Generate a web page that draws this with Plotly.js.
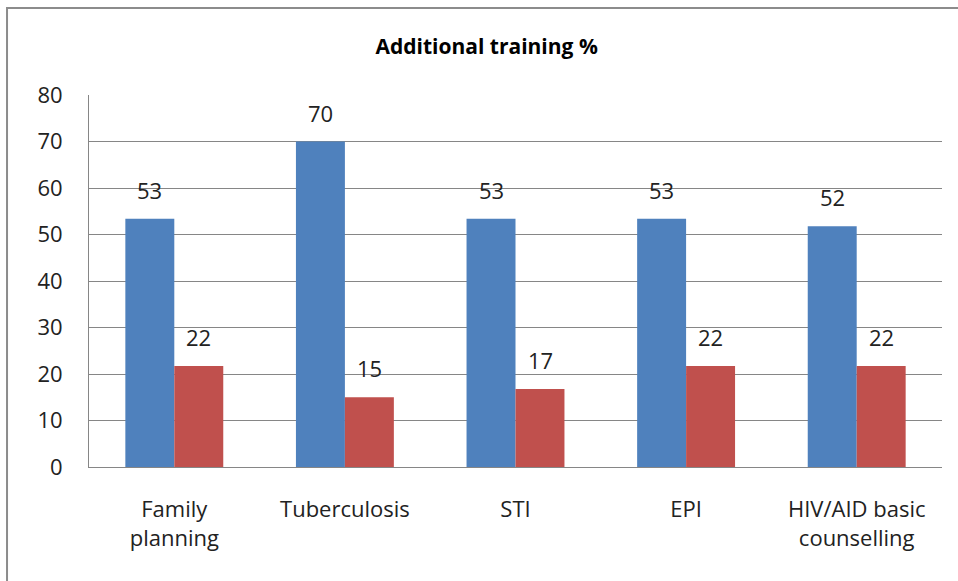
<!DOCTYPE html>
<html>
<head>
<meta charset="utf-8">
<script src="https://cdn.plot.ly/plotly-3.0.1.min.js"></script>
<style>html,body{margin:0;padding:0;background:#fff;}#chart{width:958px;height:581px;}</style>
</head>
<body>
<div id="chart"></div>
<script>
const categories = ["Family<br>planning", "Tuberculosis", "STI", "EPI", "HIV/AID basic<br>counselling"];
const seriesA = [53.4, 70, 53.4, 53.4, 51.8];
const seriesB = [21.7, 15, 16.8, 21.7, 21.7];
const yTicks = [0, 10, 20, 30, 40, 50, 60, 70, 80];

const font = "Open Sans, Noto Sans, sans-serif";
const traces = [
  {type: "bar", x: categories, y: seriesA, name: "A", marker: {color: "#4F81BD"}, hoverinfo: "skip"},
  {type: "bar", x: categories, y: seriesB, name: "B", marker: {color: "#C0504D"}, hoverinfo: "skip"}
];

const annotations = [];
[[seriesA, -24.5], [seriesB, 24.5]].forEach(([vals, dx]) => {
  vals.forEach((v, i) => {
    annotations.push({
      x: categories[i], y: v, xref: "x", yref: "y",
      text: String(Math.round(v)), showarrow: false,
      xshift: dx, yshift: 12, yanchor: "bottom",
      font: {family: font, size: 22, color: "#222"}
    });
  });
});

const border = {type: "path", xref: "paper", yref: "paper",
  path: "M -0.0961 -0.32 L -0.0961 1.2339 L 1.03 1.2339",
  line: {color: "#8c8c8c", width: 2}};

const layout = {
  width: 958, height: 581,
  margin: {l: 89, r: 16, t: 95, b: 114},
  paper_bgcolor: "#fff", plot_bgcolor: "#fff",
  showlegend: false,
  barmode: "group", bargap: 0.426, bargroupgap: 0,
  title: {text: "<b>Additional training %</b>", x: 0.508, xanchor: "center", y: 0.919, yanchor: "middle",
    font: {family: font, size: 21, color: "#000"}},
  xaxis: {type: "category", showgrid: false, showline: true, linecolor: "#868686", linewidth: 1,
    ticks: "", ticklabelstandoff: 23,
    tickfont: {family: font, size: 22, color: "#222"}, fixedrange: true},
  yaxis: {range: [0, 80], tickvals: yTicks, ticktext: yTicks.map(String),
    showgrid: true, gridcolor: "#868686", gridwidth: 1,
    showline: true, linecolor: "#868686", linewidth: 1, zeroline: false,
    ticks: "", ticklabelstandoff: 21,
    tickfont: {family: font, size: 22, color: "#222"}, fixedrange: true},
  annotations: annotations,
  shapes: [border]
};

Plotly.newPlot("chart", traces, layout, {staticPlot: true, displayModeBar: false});
</script>
</body>
</html>
